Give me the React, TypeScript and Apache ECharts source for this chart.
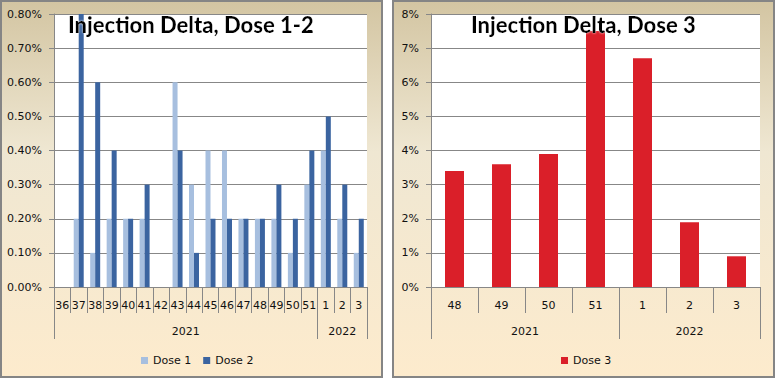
import React, { useEffect, useRef } from "react";
import * as echarts from "echarts";

const weeks12 = ["36", "37", "38", "39", "40", "41", "42", "43", "44", "45", "46", "47", "48", "49", "50", "51", "1", "2", "3"];
const dose1 = [0, 0.2, 0.1, 0.2, 0.2, 0.2, 0, 0.6, 0.3, 0.4, 0.4, 0.2, 0.2, 0.2, 0.1, 0.3, 0.4, 0.2, 0.1];
const dose2 = [0, 0.8, 0.6, 0.4, 0.2, 0.3, 0, 0.4, 0.1, 0.2, 0.2, 0.2, 0.2, 0.3, 0.2, 0.4, 0.5, 0.3, 0.2];
const years12 = ["2021", "2022"];
const yearCounts12 = [16, 3];

const weeks3 = ["48", "49", "50", "51", "1", "2", "3"];
const dose3 = [3.4, 3.6, 3.9, 7.5, 6.7, 1.9, 0.9];
const years3 = ["2021", "2022"];
const yearCounts3 = [4, 3];

const FONT = "DejaVu Sans";
const GRAY = "#878787";

function yearAxis(gridIndex: number, years: string[], counts: number[]) {
  const bounds: number[] = [0];
  const centers: number[] = [];
  let acc = 0;
  counts.forEach((c) => {
    centers.push(acc + c / 2);
    acc += c;
    bounds.push(acc);
  });
  return {
    type: "value",
    gridIndex,
    position: "bottom",
    min: 0,
    max: acc,
    axisLine: { show: false },
    splitLine: { show: false },
    axisTick: { show: true, customValues: bounds, length: 52, lineStyle: { color: GRAY, width: 1 } },
    axisLabel: {
      show: true,
      customValues: centers,
      margin: 39,
      fontFamily: FONT,
      fontSize: 11,
      color: "#111",
      formatter: (v: number) => years[centers.findIndex((c) => Math.abs(c - v) < 1e-6)] ?? "",
    },
  };
}

function weekAxis(gridIndex: number, weeks: string[]) {
  return {
    type: "category",
    gridIndex,
    data: weeks,
    position: "bottom",
    axisLine: { show: true, lineStyle: { color: GRAY, width: 1 } },
    axisTick: { show: true, interval: 0, length: 26, alignWithLabel: false, lineStyle: { color: GRAY, width: 1 } },
    axisLabel: { interval: 0, margin: 13, fontFamily: FONT, fontSize: 11, color: "#111", hideOverlap: false },
    splitLine: { show: false },
  };
}

function panelBg(x: number) {
  return {
    type: "rect",
    z: -10,
    silent: true,
    shape: { x, y: 1, width: 381, height: 376 },
    style: {
      fill: new echarts.graphic.LinearGradient(0, 0, 0, 1, [
        { offset: 0, color: "#d3c5a2" },
        { offset: 0.4, color: "#efe7d2" },
        { offset: 1, color: "#fdebcd" },
      ]),
      stroke: "#858585",
      lineWidth: 2,
    },
  };
}

export default function App() {
  const ref = useRef<HTMLDivElement>(null);
  useEffect(() => {
    document.body.style.margin = "0";
    const chart = echarts.init(ref.current!, null, { renderer: "svg" });
    const titleStyle = {
      fontFamily: "Lato",
      fontWeight: 900,
      fontSize: 22,
      color: "#000",
      textShadowColor: "rgba(255,255,255,0.9)",
      textShadowBlur: 2,
    };
    chart.setOption({
      animation: false,
      graphic: [panelBg(1), panelBg(393)],
      title: [
        { text: "Injection Delta, Dose 1-2", left: 63, top: 8, textStyle: titleStyle },
        { text: "Injection Delta, Dose 3", left: 466, top: 8, textStyle: titleStyle },
      ],
      legend: [
        {
          data: ["Dose 1", "Dose 2"],
          left: 136,
          top: 350,
          itemWidth: 7,
          itemHeight: 7,
          itemGap: 12,
          icon: "rect",
          textStyle: { fontFamily: FONT, fontSize: 11, color: "#111" },
        },
        {
          data: ["Dose 3"],
          left: 556,
          top: 350,
          itemWidth: 7,
          itemHeight: 7,
          icon: "rect",
          textStyle: { fontFamily: FONT, fontSize: 11, color: "#111" },
        },
      ],
      grid: [
        { left: 54, right: 409, top: 14, bottom: 92, show: true, backgroundColor: "#fff", borderWidth: 0 },
        { left: 431, right: 16, top: 14, bottom: 92, show: true, backgroundColor: "#fff", borderWidth: 0 },
      ],
      xAxis: [
        weekAxis(0, weeks12),
        yearAxis(0, years12, yearCounts12),
        weekAxis(1, weeks3),
        yearAxis(1, years3, yearCounts3),
      ],
      yAxis: [
        {
          type: "value",
          gridIndex: 0,
          min: 0,
          max: 0.8,
          interval: 0.1,
          axisLine: { show: true, lineStyle: { color: GRAY } },
          axisTick: { show: true, length: 5, lineStyle: { color: GRAY } },
          splitLine: { show: true, lineStyle: { color: GRAY, width: 1 } },
          axisLabel: {
            fontFamily: FONT,
            fontSize: 11,
            color: "#111",
            margin: 12,
            formatter: (v: number) => v.toFixed(2) + "%",
          },
        },
        {
          type: "value",
          gridIndex: 1,
          min: 0,
          max: 8,
          interval: 1,
          axisLine: { show: true, lineStyle: { color: GRAY } },
          axisTick: { show: true, length: 5, lineStyle: { color: GRAY } },
          splitLine: { show: true, lineStyle: { color: GRAY, width: 1 } },
          axisLabel: {
            fontFamily: FONT,
            fontSize: 11,
            color: "#111",
            margin: 12,
            formatter: (v: number) => v + "%",
          },
        },
      ],
      series: [
        { name: "Dose 1", type: "bar", xAxisIndex: 0, yAxisIndex: 0, data: dose1, barWidth: 5, barGap: "0%", itemStyle: { color: "#a7bfdf" } },
        { name: "Dose 2", type: "bar", xAxisIndex: 0, yAxisIndex: 0, data: dose2, barWidth: 5, barGap: "0%", itemStyle: { color: "#3b64a0" } },
        { name: "Dose 3", type: "bar", xAxisIndex: 2, yAxisIndex: 1, data: dose3, barWidth: 19, itemStyle: { color: "#da1f29" } },
      ],
    });
    return () => chart.dispose();
  }, []);
  return <div ref={ref} style={{ position: "fixed", left: 0, top: 0, width: 776, height: 379, background: "#fff" }} />;
}
